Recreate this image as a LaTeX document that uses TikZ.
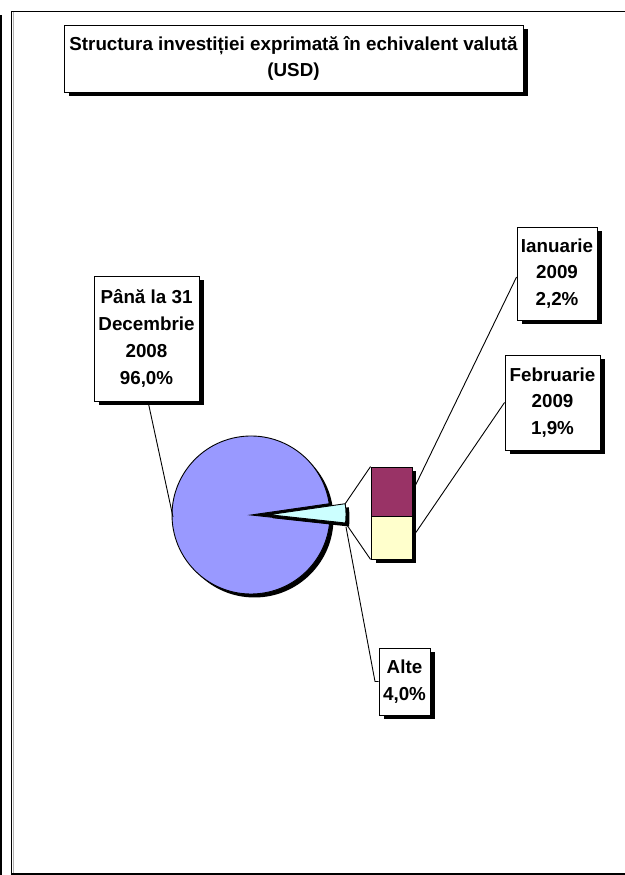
\documentclass[tikz,border=0pt]{standalone}
\usepackage{fontspec}
\setmainfont{Liberation Sans}
\usetikzlibrary{shadows}
\definecolor{piebl}{HTML}{9999FF}
\definecolor{cyanw}{HTML}{CCFFFF}
\definecolor{maroonb}{HTML}{993366}
\definecolor{lyel}{HTML}{FFFFCC}
\begin{document}
\begin{tikzpicture}[x=1pt,y=1pt,line join=miter]
\useasboundingbox (0,0) rectangle (624,875);
\tikzset{
  lbl/.style={draw, fill=white, line width=0.9pt, align=center, inner sep=0pt,
    font=\fontsize{18.8}{26.8}\selectfont\bfseries,
    drop shadow={shadow xshift=4.5pt, shadow yshift=-4.5pt, fill=black, opacity=1}},
  leader/.style={line width=0.9pt},
  barseg/.style={draw, line width=0.9pt, minimum width=41pt, inner sep=0pt}
}
% outer frame
\draw[line width=1.7pt] (0.9,0) -- (0.9,860);
\draw[line width=1.2pt] (630,1) -- (11.5,1) -- (11.5,863.5) -- (630,863.5);
\draw[gray!60, line width=1pt] (13,862.5) -- (13,2);
% title
\node[lbl, minimum width=459pt, minimum height=67pt, font=\fontsize{18.8}{26}\selectfont\bfseries] (title) at (293.5,816.5)
  {Structura investiției exprimată în echivalent valută\\(USD)};
% pie
\coordinate (C) at (251,360);
\fill[black] (254.5,356.5) circle[radius=79];
\fill[black] (C) -- ++(-6.2:79) arc[start angle=-6.2, end angle=8.2, radius=79] -- cycle;
\filldraw[fill=piebl, line width=0.9pt] (C) -- ++(8.2:79) arc[start angle=8.2, end angle=353.8, radius=79] -- cycle;
% exploded wedge
\coordinate (T) at (269,360.3);
\fill[black] (272.5,356.8) -- ++(-6.2:77) arc[start angle=-6.2, end angle=8.2, radius=77] -- cycle;
\filldraw[fill=cyanw, line width=0.9pt] (T) -- ++(-6.2:77) coordinate (wb)
  arc[start angle=-6.2, end angle=8.2, radius=77] coordinate (wt) -- cycle;
% bar
\fill[black] (375.5,312) rectangle (416,404);
\node[barseg, fill=maroonb, minimum height=49pt] (barjan) at (391.5,383.5) {};
\node[barseg, fill=lyel, minimum height=43pt] (barfeb) at (391.5,337.5) {};
\draw[leader] (wt) -- (barjan.north west);
\draw[leader] (wb) -- (barfeb.south west);
% labels
\node[lbl, minimum width=105pt, minimum height=125pt] (pana) at (146.5,536.5)
  {Până la 31\\Decembrie\\2008\\96,0\%};
\node[lbl, minimum width=80pt, minimum height=93pt] (ian) at (557,601.5)
  {Ianuarie\\2009\\2,2\%};
\node[lbl, minimum width=95pt, minimum height=95pt] (febl) at (552.5,472.5)
  {Februarie\\2009\\1,9\%};
\node[lbl, minimum width=51pt, minimum height=67pt] (alte) at (404.5,193.5)
  {Alte\\4,0\%};
% leaders
\coordinate (pp) at (173,358);
\draw[leader] ([xshift=1.5pt]pana.south) -- (pp);
\draw[leader] ([yshift=-3.5pt]ian.west) -- (barjan.east);
\draw[leader] (febl.west) -- (barfeb.east);
\coordinate (ap) at (346,348);
\coordinate (ak) at (375,193.5);
\draw[leader] (ap) -- (ak) -- (alte.west);
\end{tikzpicture}
\end{document}
